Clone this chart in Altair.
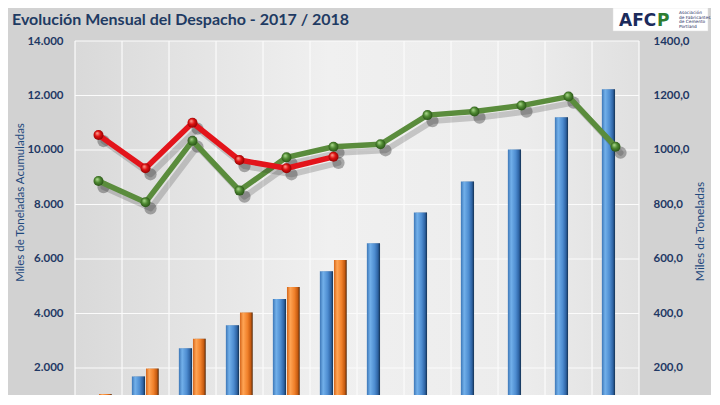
import altair as alt
import pandas as pd

# ---------------- data ----------------
meses = ["Ene", "Feb", "Mar", "Abr", "May", "Jun", "Jul", "Ago", "Sep", "Oct", "Nov", "Dic"]
mes_num = list(range(1, 13))
acum_2017 = [870, 1690, 2725, 3565, 4535, 5550, 6580, 7705, 8845, 10020, 11200, 12225]
acum_2018 = [1045, 1980, 3075, 4040, 4970, 5960]
mens_2017 = [886, 808, 1034, 851, 973, 1012, 1021, 1128, 1141, 1163, 1196, 1012]
mens_2018 = [1055, 933, 1100, 963, 933, 975]
left_ticks = [2000, 4000, 6000, 8000, 10000, 12000, 14000]
right_ticks = [200, 400, 600, 800, 1000, 1200, 1400]
month_edges = [0.5 + i for i in range(13)]
titulo = "Evolución Mensual del Despacho - 2017 / 2018"
logo_lines = ["Asociación", "de Fabricantes", "de Cemento", "Portland"]

# ---------------- layout ----------------
W, H = 564, 354
X_DOM = [0.5, 12.5]
Y_LEFT = [1009, 14000]
Y_RIGHT = [100.9, 1400]

NAVY = "#1f3864"
FONT = "Lato"

df17 = pd.DataFrame({"mes": meses, "m": mes_num, "acum": acum_2017, "mensual": mens_2017})
df18 = pd.DataFrame({"mes": meses[:6], "m": mes_num[:6], "acum": acum_2018, "mensual": mens_2018})

xs = alt.Scale(domain=X_DOM, nice=False, zero=False)
yl = alt.Scale(domain=Y_LEFT, nice=False, zero=False)
yr = alt.Scale(domain=Y_RIGHT, nice=False, zero=False)


def lin(stops):
    return alt.LinearGradient(
        gradient="linear",
        stops=[alt.GradientStop(offset=o, color=c) for o, c in stops],
        x1=0, x2=1, y1=0, y2=0,
    )


def rad(stops):
    return alt.RadialGradient(
        gradient="radial",
        stops=[alt.GradientStop(offset=o, color=c) for o, c in stops],
        x1=0.35, y1=0.3, r1=0, x2=0.5, y2=0.5, r2=0.6,
    )


bg_grad = lin([(0, "#d9d9d9"), (0.45, "#f0f0f0"), (0.8, "#ececec"), (1, "#e0e0e0")])
blue_grad = lin([(0, "#3c76b6"), (0.25, "#72b0ea"), (0.6, "#4d8cd0"), (0.85, "#2d62a2"), (1, "#13304f")])
orange_grad = lin([(0, "#d4651a"), (0.25, "#ffa555"), (0.6, "#f0802a"), (0.85, "#c55a10"), (1, "#5a2a08")])
green_pt = rad([(0, "#b8e39a"), (0.45, "#4f8a32"), (1, "#1f4510")])
red_pt = rad([(0, "#ffb0a0"), (0.45, "#e01010"), (1, "#7a0000")])

one = pd.DataFrame({"k": [0]})

left_axis = alt.Axis(
    title="Miles de Toneladas Acumuladas", titleFont=FONT, titleFontSize=11.5, titleFontWeight="normal",
    titleColor="#1f497d", titlePadding=1, titleY=161,
    labelFont=FONT, labelFontSize=11.5, labelFontWeight="bold", labelColor=NAVY, labelPadding=12,
    values=left_ticks, labelExpr="replace(format(datum.value, ','), ',', '.')",
    domain=False, ticks=False, grid=False, zindex=1,
)
right_axis = alt.Axis(
    orient="right",
    title="Miles de Toneladas", titleFont=FONT, titleFontSize=12, titleFontWeight="normal",
    titleColor="#1f497d", titlePadding=17, titleAngle=270, titleY=190,
    labelFont=FONT, labelFontSize=11.5, labelFontWeight="bold", labelColor=NAVY, labelPadding=14,
    values=right_ticks, labelExpr="replace(format(datum.value, '.1f'), '.', ',')",
    domain=False, ticks=False, grid=False, zindex=1,
)

# plot-area background gradient
bg = alt.Chart(one).mark_rect(fill=bg_grad).encode(
    x=alt.value(0), x2=alt.value(W), y=alt.value(0), y2=alt.value(H)
)

# grid lines
hgrid = alt.Chart(pd.DataFrame({"v": left_ticks})).mark_rule(color="#fbfbfb", strokeWidth=1.2).encode(
    y=alt.Y("v:Q", scale=yl, axis=left_axis)
)
vgrid = alt.Chart(pd.DataFrame({"e": month_edges})).mark_rule(color="#fbfbfb", strokeWidth=1.2).encode(
    x=alt.X("e:Q", scale=xs, axis=None)
)


def bar_layers(df, lo, hi, grad):
    base = alt.Chart(df).transform_calculate(
        x0=f"datum.m + ({lo})", x1=f"datum.m + ({hi})", b="0"
    )
    enc = dict(
        x=alt.X("x0:Q", scale=xs, axis=None),
        x2="x1:Q",
        y=alt.Y("acum:Q", scale=yl, axis=left_axis),
        y2="b:Q",
    )
    shadow = base.mark_rect(color="#202020", opacity=0.3, xOffset=2, clip=True).encode(**enc)
    bar = base.mark_rect(fill=grad, clip=True).encode(**enc)
    return [shadow, bar]


left = alt.layer(
    bg, hgrid, vgrid,
    *bar_layers(df17, -0.29, -0.01, blue_grad),
    *bar_layers(df18, 0.01, 0.28, orange_grad),
)


def line_layers(df, color, ptgrad):
    base = alt.Chart(df).encode(
        x=alt.X("m:Q", scale=xs, axis=None),
        y=alt.Y("mensual:Q", scale=yr, axis=right_axis),
    )
    sh_line = base.mark_line(color="#303030", opacity=0.22, strokeWidth=6, xOffset=5, yOffset=6,
                             strokeJoin="round", strokeCap="round")
    sh_pt = base.mark_circle(color="#202020", opacity=0.35, size=150, xOffset=5, yOffset=6)
    line = base.mark_line(color=color, strokeWidth=5.5, strokeJoin="round", strokeCap="round")
    pts = base.mark_circle(fill=ptgrad, opacity=1, size=100)
    return [sh_line, sh_pt, line, pts]


# title as text
title_mark = alt.Chart(one).mark_text(
    text=titulo, font=FONT, fontSize=16, fontWeight="bold", color="#1f3b63",
    align="left", baseline="alphabetic",
).encode(x=alt.value(-63), y=alt.value(-16))

# logo
logo_box = alt.Chart(one).mark_rect(fill="white", stroke="#dddddd", strokeWidth=0.5).encode(
    x=alt.value(538), x2=alt.value(633), y=alt.value(-33), y2=alt.value(-10)
)
logo_afc = alt.Chart(one).mark_text(
    text="AFC", font="DejaVu Sans", fontSize=17, fontWeight="bold", color="#1b2b5c",
    align="left", baseline="alphabetic",
).encode(x=alt.value(544), y=alt.value(-15))
logo_p = alt.Chart(one).mark_text(
    text="P", font="DejaVu Sans", fontSize=17, fontWeight="bold", color="#2e7d32",
    align="left", baseline="alphabetic",
).encode(x=alt.value(582), y=alt.value(-15))
logo_txt = alt.Chart(one).mark_text(
    font="DejaVu Sans", fontSize=4.3, lineHeight=4.6, color="#1b2b5c", align="left", baseline="top",
).encode(x=alt.value(604), y=alt.value(-30), text=alt.value(logo_lines))

right = alt.layer(
    *line_layers(df17, "#5a8c3c", green_pt),
    *line_layers(df18, "#e3141b", red_pt),
    title_mark, logo_box, logo_afc, logo_p, logo_txt,
)

chart = (
    alt.layer(left, right)
    .resolve_scale(y="independent")
    .properties(
        width=W, height=H,
        padding={"left": 67, "top": 33, "right": 72, "bottom": 0},
        autosize=alt.AutoSizeParams(type="none"),
        background="#d2d2d2",
    )
    .configure_view(stroke=None)
)

chart.save("out.html", embed_options={"renderer": "svg", "actions": False})
